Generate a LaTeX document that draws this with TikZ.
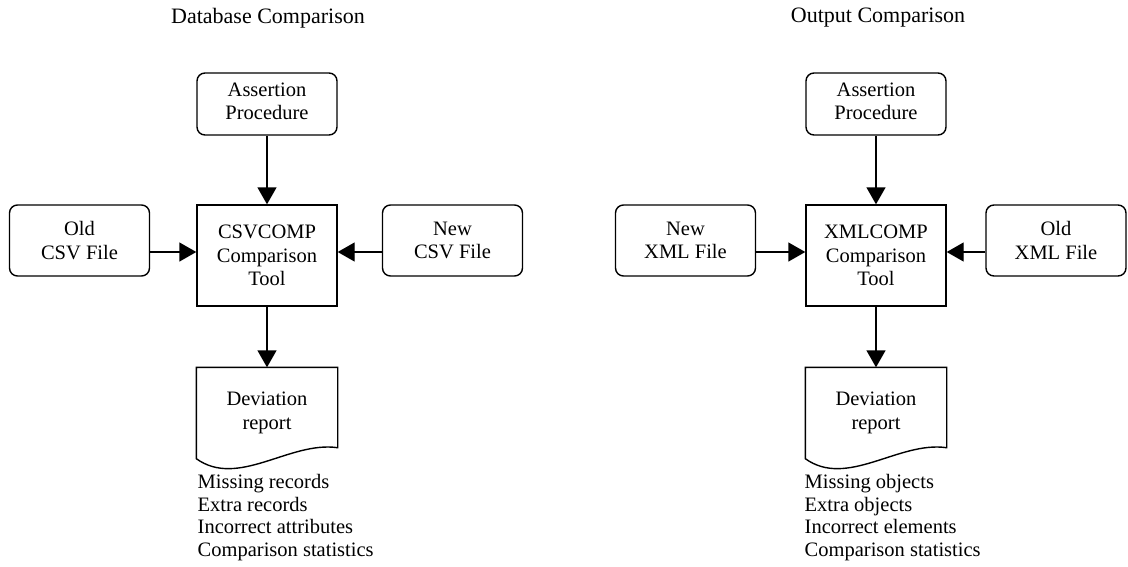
\documentclass[tikz,border=0pt]{standalone}
\usepackage{fontspec}
\setmainfont{Liberation Serif}
\usetikzlibrary{arrows.meta}

\tikzset{
  file/.style={draw,rounded corners=8pt,align=center,minimum width=140pt,minimum height=71pt},
  proc/.style={draw,rounded corners=8pt,align=center,minimum width=140pt,minimum height=62pt,text depth=6pt},
  tool/.style={draw,align=center,minimum width=140pt,minimum height=101pt},
  doc/.style={align=center,minimum width=140pt,minimum height=90pt},
  title/.style={font=\fontsize{22}{25}\selectfont},
  arr/.style={-{Triangle[length=17pt,width=19pt]}},
}

\begin{document}
\begin{tikzpicture}[x=1pt,y=-1pt,line width=1.4pt,
    font=\fontsize{20.5}{23.5}\selectfont]

      \useasboundingbox (0,0) rectangle (1128,566);

      % database side
      \path (268,18) node[title] (titleL) {Database Comparison};
      \path (267,104) node[proc] (assertL) {Assertion\\Procedure};
      \path (267,255.5) node[tool] (compL) {CSVCOMP\\Comparison\\Tool};
      \path (79.5,240.5) node[file] (oldCSV) {Old\\CSV File};
      \path (452.5,240.5) node[file] (newCSV) {New\\CSV File};
      \path (267,413) node[doc] (devL) {Deviation\\report};
      \path (197,474) node[anchor=north west,align=left,inner sep=0pt,
        font=\fontsize{20.5}{22.5}\selectfont] (listL)
        {Missing records\\Extra records\\Incorrect attributes\\Comparison statistics};

      \draw (devL.north west) -- (devL.north east) -- ([yshift=11pt]devL.south east)
        .. controls +(-48,-7) and +(42,30) .. (devL.south west) -- cycle;

      \draw[arr] (assertL) -- (compL);
      \draw[arr] (compL) -- (devL);
      \draw[arr] ([yshift=-11.5pt]oldCSV.east) -- ([yshift=-11.5pt]oldCSV.east -| compL.west);
      \draw[arr] ([yshift=-11.5pt]newCSV.west) -- ([yshift=-11.5pt]newCSV.west -| compL.east);

      % output side
      \path (878,18) node[title] (titleR) {Output Comparison};
      \path (876,104) node[proc] (assertR) {Assertion\\Procedure};
      \path (876,255.5) node[tool] (compR) {XMLCOMP\\Comparison\\Tool};
      \path (685.5,240.5) node[file] (newXML) {New\\XML File};
      \path (1056,240.5) node[file] (oldXML) {Old\\XML File};
      \path (876,413) node[doc] (devR) {Deviation\\report};
      \path (804,474) node[anchor=north west,align=left,inner sep=0pt,
        font=\fontsize{20.5}{22.5}\selectfont] (listR)
        {Missing objects\\Extra objects\\Incorrect elements\\Comparison statistics};

      \draw (devR.north west) -- (devR.north east) -- ([yshift=11pt]devR.south east)
        .. controls +(-48,-7) and +(42,30) .. (devR.south west) -- cycle;

      \draw[arr] (assertR) -- (compR);
      \draw[arr] (compR) -- (devR);
      \draw[arr] ([yshift=-11.5pt]newXML.east) -- ([yshift=-11.5pt]newXML.east -| compR.west);
      \draw[arr] ([yshift=-11.5pt]oldXML.west) -- ([yshift=-11.5pt]oldXML.west -| compR.east);
   \end{tikzpicture}
\end{document}
